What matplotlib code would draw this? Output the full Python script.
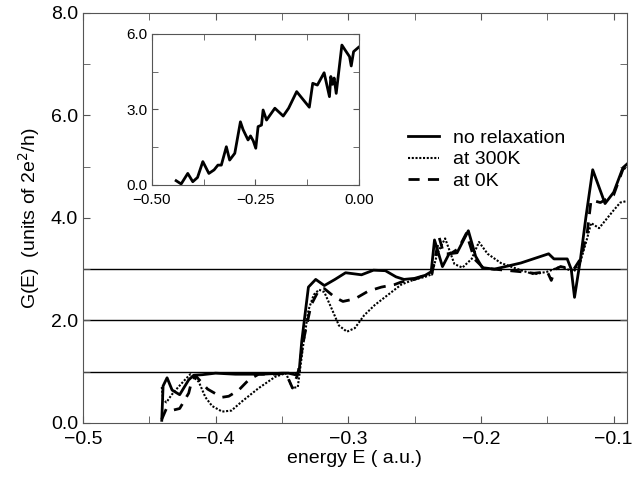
import matplotlib
matplotlib.use('Agg')
import matplotlib.pyplot as plt
from matplotlib.ticker import MultipleLocator, FuncFormatter

plt.rcParams['font.family'] = ['Liberation Sans', 'DejaVu Sans']

# no relaxation
e_norel = [-0.4405, -0.4395, -0.4365, -0.4327, -0.427, -0.4202, -0.4164, -0.41, -0.4, -0.385,
           -0.365, -0.35, -0.345, -0.34, -0.337, -0.335, -0.33, -0.3245, -0.318, -0.31,
           -0.302, -0.29, -0.281, -0.272, -0.264, -0.258, -0.25, -0.242, -0.2375, -0.235,
           -0.229, -0.224, -0.218, -0.2095, -0.204, -0.199, -0.19, -0.17, -0.149, -0.145,
           -0.135, -0.132, -0.1295, -0.125, -0.121, -0.1158, -0.1065, -0.1, -0.093, -0.09]
g_norel = [0.05, 0.72, 0.88, 0.64, 0.55, 0.84, 0.93, 0.94, 0.97, 0.95,
           0.95, 0.97, 0.97, 0.94, 1.0, 1.6, 2.65, 2.8, 2.68, 2.8,
           2.93, 2.89, 2.98, 2.97, 2.85, 2.8, 2.82, 2.88, 2.95, 3.57,
           3.05, 3.3, 3.32, 3.75, 3.25, 3.03, 3.0, 3.12, 3.3, 3.2,
           3.2, 3.0, 2.45, 3.2, 4.0, 4.94, 4.28, 4.5, 4.98, 5.05]

# at 300K
e_300 = [-0.4405, -0.4395, -0.437, -0.433, -0.428, -0.4245, -0.419, -0.4126, -0.4076, -0.4026,
         -0.395, -0.388, -0.38, -0.3674, -0.355, -0.347, -0.342, -0.338, -0.334, -0.33,
         -0.326, -0.322, -0.318, -0.312, -0.307, -0.301, -0.295, -0.288, -0.28, -0.27,
         -0.26, -0.25, -0.242, -0.237, -0.233, -0.227, -0.22, -0.214, -0.207, -0.2015,
         -0.195, -0.185, -0.17, -0.16, -0.15, -0.145, -0.14, -0.13, -0.125, -0.12,
         -0.117, -0.111, -0.1, -0.095, -0.09]
g_300 = [0.7, 0.45, 0.4, 0.55, 0.7, 0.8, 0.95, 0.8, 0.5, 0.33,
         0.22, 0.24, 0.42, 0.68, 0.9, 0.97, 0.68, 0.7, 1.5, 2.2,
         2.5, 2.6, 2.55, 2.2, 1.9, 1.78, 1.85, 2.1, 2.3, 2.5,
         2.7, 2.8, 2.85, 2.9, 3.3, 3.6, 3.1, 3.03, 3.2, 3.53,
         3.3, 3.12, 2.98, 2.9, 2.95, 3.0, 3.05, 2.95, 3.15, 3.6,
         3.9, 3.8, 4.15, 4.3, 4.33]

# at 0K
e_0 = [-0.4405, -0.437, -0.4318, -0.427, -0.4202, -0.4177, -0.415, -0.406, -0.4, -0.395,
       -0.39, -0.3825, -0.375, -0.3675, -0.355, -0.347, -0.342, -0.338, -0.333, -0.328,
       -0.322, -0.318, -0.31, -0.304, -0.295, -0.285, -0.275, -0.265, -0.26, -0.25,
       -0.242, -0.237, -0.2315, -0.228, -0.223, -0.217, -0.211, -0.205, -0.198, -0.19,
       -0.17, -0.16, -0.15, -0.147, -0.144, -0.14, -0.13, -0.125, -0.12, -0.117,
       -0.11, -0.1, -0.093, -0.09]
g_0 = [0.07, 0.28, 0.25, 0.28, 0.58, 0.84, 0.92, 0.66, 0.57, 0.5,
       0.52, 0.64, 0.84, 0.95, 0.95, 0.97, 0.68, 0.95, 1.7, 2.3,
       2.6, 2.62, 2.45, 2.37, 2.42, 2.57, 2.65, 2.7, 2.75, 2.8,
       2.88, 2.9, 3.62, 3.3, 3.3, 3.4, 3.7, 3.2, 3.02, 3.0,
       2.95, 2.92, 2.95, 2.78, 3.0, 3.05, 3.0, 3.2, 3.7, 4.35,
       4.3, 4.45, 4.95, 5.0]

# inset curve
e_in = [-0.4417, -0.4296, -0.4136, -0.4015, -0.39, -0.3772, -0.3626, -0.35, -0.3408, -0.3325,
        -0.3204, -0.3124, -0.3, -0.2864, -0.28, -0.268, -0.262, -0.2553, -0.2493, -0.2437,
        -0.2355, -0.2316, -0.2233, -0.2032, -0.183, -0.17, -0.1505, -0.12, -0.1117, -0.1005,
        -0.0842, -0.0713, -0.068, -0.064, -0.06, -0.055, -0.0413, -0.033, -0.0228, -0.0187,
        -0.013, -0.001]
g_in = [0.17, 0.04, 0.46, 0.13, 0.3, 0.93, 0.46, 0.6, 0.79, 0.79,
        1.52, 0.99, 1.26, 2.51, 2.2, 1.79, 1.95, 1.75, 1.46, 2.32,
        2.38, 2.98, 2.58, 3.05, 2.74, 3.05, 3.71, 3.09, 4.04, 3.97,
        4.46, 3.51, 4.31, 4.0, 4.25, 3.64, 5.56, 5.35, 5.1, 4.73,
        5.3, 5.47]

levels = [1.0, 2.0, 3.0]


def fmt_minus(fmt):
    return FuncFormatter(lambda v, p: (fmt % v).replace('-', '\u2212'))


fig = plt.figure(figsize=(6.32, 4.8), dpi=100)
ax = fig.add_axes([0.131, 0.119, 0.861, 0.854])

for lv in levels:
    ax.axhline(lv, color='black', lw=1.0, zorder=1)

ax.plot(e_norel, g_norel, '-', color='black', lw=2.0, label='no relaxation')
ax.plot(e_300, g_300, color='black', lw=1.5, dashes=(1, 0.8), label='at 300K')
ax.plot(e_0, g_0, '--', color='black', lw=2.0, dashes=(4, 3), label='at 0K')

ax.set_xlim(-0.5, -0.09)
ax.set_ylim(0, 8)
ax.xaxis.set_major_locator(MultipleLocator(0.1))
ax.xaxis.set_minor_locator(MultipleLocator(0.05))
ax.yaxis.set_major_locator(MultipleLocator(2.0))
ax.yaxis.set_minor_locator(MultipleLocator(1.0))
ax.xaxis.set_major_formatter(fmt_minus('%.1f'))
ax.yaxis.set_major_formatter(fmt_minus('%.1f'))
ax.tick_params(which='both', direction='in', top=True, right=True, labelsize=14, length=5, color='#555555')
ax.tick_params(axis='x', pad=6)
for s in ax.spines.values():
    s.set_color('#555555')
ax.set_xlabel('energy E ( a.u.)', fontsize=14, labelpad=1)
ax.set_ylabel('G(E)  (units of 2e$^2$/h)', fontsize=14, labelpad=6)

ax.legend(loc='upper left', bbox_to_anchor=(0.58, 0.74), frameon=False, fontsize=14,
          handlelength=1.6, handletextpad=0.7, labelspacing=0.2, borderpad=0)

# inset
ins = fig.add_axes([0.2405, 0.6146, 0.3275, 0.3146])
ins.plot(e_in, g_in, '-', color='black', lw=2.0)
ins.set_xlim(-0.5, 0.0)
ins.set_ylim(0, 6)
ins.xaxis.set_major_locator(MultipleLocator(0.25))
ins.xaxis.set_minor_locator(MultipleLocator(0.125))
ins.yaxis.set_major_locator(MultipleLocator(3.0))
ins.yaxis.set_minor_locator(MultipleLocator(1.5))
ins.xaxis.set_major_formatter(fmt_minus('%.2f'))
ins.yaxis.set_major_formatter(fmt_minus('%.1f'))
ins.tick_params(which='both', direction='in', top=True, right=True, labelsize=11, length=4, color='#555555', pad=3)
ins.tick_params(axis='x', pad=6)
for s in ins.spines.values():
    s.set_color('#555555')

fig.savefig('out.png', dpi=100)
